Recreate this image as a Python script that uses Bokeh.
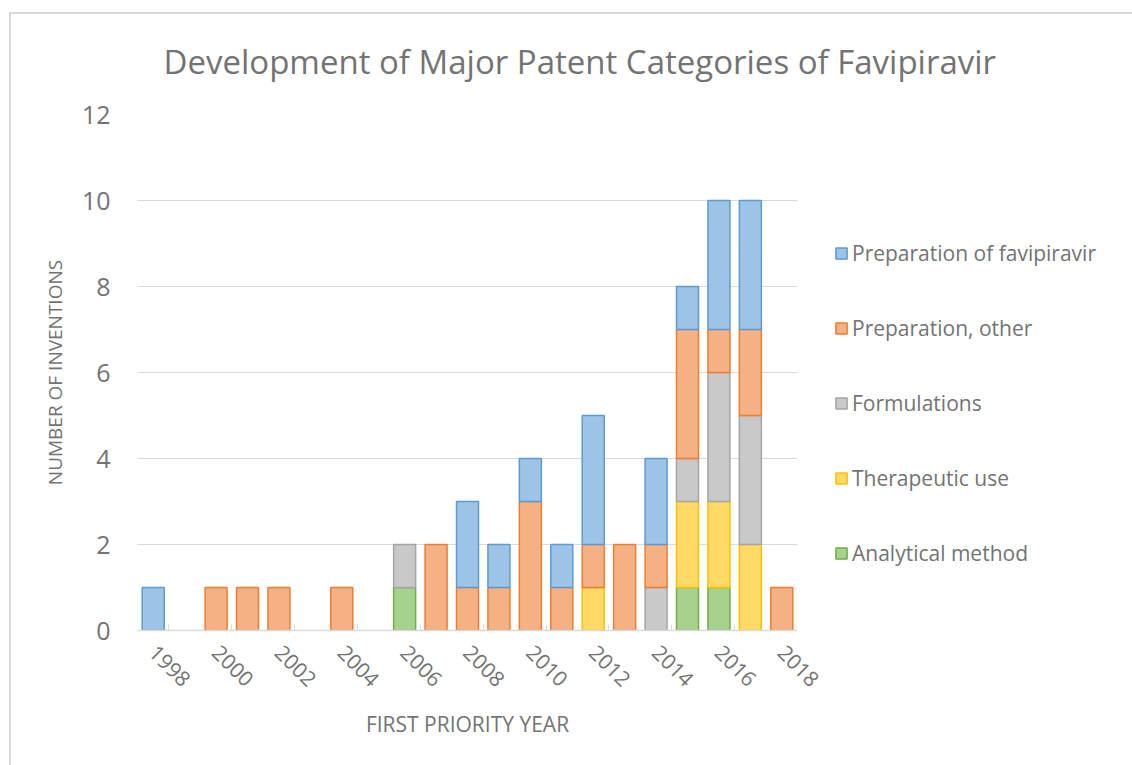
import math
from bokeh.plotting import figure
from bokeh.models import (Legend, LegendItem, FixedTicker, LinearAxis,
                          Range1d, Title)
from bokeh.embed import file_html
from bokeh.resources import INLINE

# ---- data ----
years = list(range(1998, 2019))
analytical   = [0,0,0,0,0,0,0,0,1,0,0,0,0,0,0,0,0,1,1,0,0]
therapeutic  = [0,0,0,0,0,0,0,0,0,0,0,0,0,0,1,0,0,2,2,2,0]
formulations = [0,0,0,0,0,0,0,0,1,0,0,0,0,0,0,0,1,1,3,3,0]
prep_other   = [0,0,1,1,1,0,1,0,0,2,1,1,3,1,1,2,1,3,1,2,1]
prep_fav     = [1,0,0,0,0,0,0,0,0,0,2,1,1,1,3,0,2,1,3,3,0]
year_ticks = list(range(1998, 2019, 2))
y_ticks = [0, 2, 4, 6, 8, 10, 12]

series_names = ["Analytical method", "Therapeutic use", "Formulations",
                "Preparation, other", "Preparation of favipiravir"]
series_vals = [analytical, therapeutic, formulations, prep_other, prep_fav]
fills = ["#a9d18e", "#ffd966", "#c9c9c9", "#f4b183", "#9dc3e6"]
edges = ["#70ad47", "#ffc000", "#a5a5a5", "#ed7d31", "#5b9bd5"]

FONT = "Open Sans"
GREY = "#737373"

p = figure(frame_width=660, frame_height=516,
           x_range=Range1d(1997.5, 2018.5), y_range=Range1d(0, 12),
           output_backend="svg", toolbar_location=None,
           x_axis_location=None, y_axis_location="left",
           min_border_left=137, min_border_top=114, min_border_bottom=135,
           min_border_right=300)
p.outline_line_color = None
p.background_fill_color = "white"
p.border_fill_color = None
p.styles = {
    "background": ("linear-gradient(#d9d9d9,#d9d9d9) 9px 12px / 2px 100% no-repeat, "
                   "linear-gradient(#d9d9d9,#d9d9d9) 9px 12px / 100% 2px no-repeat, white"),
}

# stacked bars (skip empty segments)
cum = [0] * len(years)
renderers = []
for name, vals, fc, lc in zip(series_names, series_vals, fills, edges):
    xs, bots, tops = [], [], []
    for i, v in enumerate(vals):
        if v > 0:
            xs.append(years[i]); bots.append(cum[i]); tops.append(cum[i] + v)
        cum[i] += v
    r = p.vbar(x=xs, bottom=bots, top=tops, width=0.7,
               fill_color=fc, line_color=lc, line_width=1.5)
    renderers.append(r)

# y axis
yax = p.yaxis[0]
yax.ticker = FixedTicker(ticks=y_ticks)
yax.axis_line_color = None
yax.major_tick_line_color = None
yax.minor_tick_line_color = None
yax.major_label_text_font = FONT
yax.major_label_text_font_size = "25px"
yax.major_label_text_color = GREY
yax.major_label_standoff = 21
yax.axis_label = "NUMBER OF INVENTIONS"
yax.axis_label_text_font = FONT
yax.axis_label_text_font_style = "normal"
yax.axis_label_text_font_size = "19px"
yax.axis_label_text_color = GREY
yax.axis_label_standoff = 11

# x axis: labels every 2 years, small inner ticks between label groups
xax = LinearAxis(ticker=FixedTicker(ticks=year_ticks,
                                    minor_ticks=[y + 0.5 for y in year_ticks[:-1]]))
xax.axis_line_color = "#d9d9d9"
xax.axis_line_width = 1.5
xax.major_tick_line_color = None
xax.minor_tick_line_color = "#d9d9d9"
xax.minor_tick_line_width = 1
xax.minor_tick_in = 6
xax.minor_tick_out = 0
xax.major_label_orientation = -math.pi / 4
xax.major_label_text_font = FONT
xax.major_label_text_font_size = "21px"
xax.major_label_text_color = GREY
xax.major_label_standoff = 12
xax.axis_label = "FIRST PRIORITY YEAR"
xax.axis_label_text_font = FONT
xax.axis_label_text_font_style = "normal"
xax.axis_label_text_font_size = "21px"
xax.axis_label_text_color = GREY
xax.axis_label_standoff = 13
p.add_layout(xax, "below")

p.xgrid.grid_line_color = None
p.ygrid.ticker = FixedTicker(ticks=y_ticks[1:])
p.ygrid.grid_line_color = "#d9d9d9"
p.ygrid.grid_line_width = 1

# legend (top of stack first)
items = [LegendItem(label=s, renderers=[r])
         for s, r in zip(series_names, renderers)][::-1]
leg = Legend(items=items, location=(37, 63))
leg.margin = 30
leg.padding = 10
leg.border_line_color = None
leg.background_fill_alpha = 0
leg.glyph_width = 14
leg.glyph_height = 14
leg.label_height = 20
leg.spacing = 47
leg.label_text_font = FONT
leg.label_text_font_size = "21px"
leg.label_text_color = GREY
leg.label_standoff = 4
p.add_layout(leg, "right")

# title
t = Title(text="Development of Major Patent Categories of Favipiravir",
          align="left", offset=26)
t.text_font = FONT
t.text_font_style = "normal"
t.text_font_size = "33px"
t.text_color = GREY
t.standoff = 62
p.title = t

open("out.html", "w").write(file_html(p, INLINE))
